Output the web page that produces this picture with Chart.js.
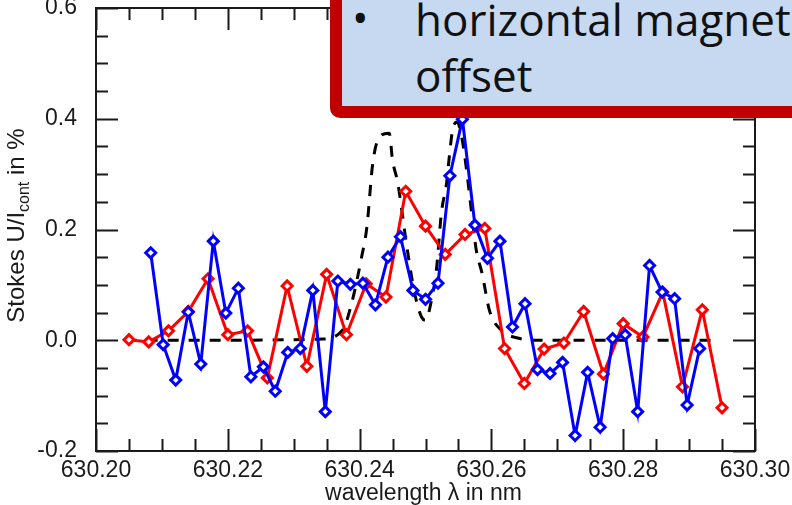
<!DOCTYPE html>
<html lang="en">
<head>
<meta charset="UTF-8">
<title>Stokes U profile</title>
<style>
    body {
        margin: 0;
        padding: 0;
        background: #ffffff;
        overflow: hidden;
    }
    .wrap {
        position: relative;
        width: 792px;
        height: 505px;
        overflow: hidden;
    }
    #stokesChart {
        position: absolute;
        left: 0;
        top: 0;
    }
    .note {
        position: absolute;
        left: 330px;
        top: -30px;
        width: 520px;
        height: 124px;
        background: #c6d9f1;
        border: 12px solid #c00000;
        border-radius: 10px;
    }
    .note-text {
        position: absolute;
        font-family: 'Open Sans', sans-serif;
        font-size: 44px;
        line-height: 44px;
        color: #111111;
        white-space: nowrap;
    }
</style>
</head>
<body>
<div class="wrap">
    <canvas id="stokesChart" width="792" height="505"></canvas>
    <div class="note"></div>
    <div class="note-text" style="left:352px; top:-5px;">•</div>
    <div class="note-text" style="left:415px; top:-3px;">horizontal magnet</div>
    <div class="note-text" style="left:415px; top:53px;">offset</div>
</div>

<script src="https://cdn.jsdelivr.net/npm/chart.js"></script>
<script>
    // tick labels
    const xTickLabels = ['630.20', '630.22', '630.24', '630.26', '630.28', '630.30'];
    const yTickLabels = ['-0.2', '0.0', '0.2', '0.4', '0.6'];

    // red series (wavelength in nm, Stokes U in %)
    const redX = [630.205, 630.208, 630.211, 630.214, 630.217, 630.220, 630.223, 630.226,
        630.229, 630.232, 630.235, 630.238, 630.241, 630.244, 630.247, 630.250,
        630.253, 630.256, 630.259, 630.262, 630.265, 630.268, 630.271, 630.274,
        630.277, 630.280, 630.283, 630.286, 630.289, 630.292, 630.295];
    const redY = [0.001, -0.003, 0.017, 0.052, 0.111, 0.010, 0.017, -0.068,
        0.098, -0.047, 0.119, 0.010, 0.102, 0.078, 0.269, 0.206,
        0.155, 0.191, 0.202, -0.015, -0.078, -0.016, -0.005, 0.052,
        -0.061, 0.030, 0.006, 0.087, -0.084, 0.055, -0.122];

    // blue series
    const blueX = [630.2083, 630.2102, 630.2121, 630.2140, 630.2159, 630.2178, 630.2197, 630.2216,
        630.2235, 630.2254, 630.2272, 630.2291, 630.2310, 630.2329, 630.2348, 630.2367,
        630.2386, 630.2405, 630.2424, 630.2443, 630.2462, 630.2481, 630.2500, 630.2519,
        630.2537, 630.2556, 630.2575, 630.2594, 630.2613, 630.2632, 630.2651, 630.2670,
        630.2689, 630.2708, 630.2727, 630.2746, 630.2765, 630.2784, 630.2803, 630.2822,
        630.2840, 630.2859, 630.2878, 630.2897, 630.2916];
    const blueY = [0.158, -0.008, -0.072, 0.051, -0.043, 0.179, 0.049, 0.094,
        -0.066, -0.048, -0.092, -0.022, -0.015, 0.090, -0.129, 0.107,
        0.101, 0.103, 0.064, 0.150, 0.187, 0.090, 0.074, 0.103,
        0.297, 0.399, 0.208, 0.148, 0.179, 0.024, 0.066, -0.053,
        -0.060, -0.040, -0.172, -0.058, -0.157, 0.003, 0.010, -0.129,
        0.135, 0.087, 0.075, -0.117, -0.015];

    // model profile (black dashed)
    const modelX = [630.2045, 630.2200, 630.2340, 630.2374, 630.2389, 630.2403, 630.2411, 630.2420,
        630.2430, 630.2445, 630.2450, 630.2458, 630.2464, 630.2471, 630.2479, 630.2486,
        630.2494, 630.2500, 630.2509, 630.2517, 630.2524, 630.2532, 630.2536, 630.2541,
        630.2548, 630.2556, 630.2562, 630.2570, 630.2577, 630.2586, 630.2597, 630.2615,
        630.2640, 630.2670, 630.2945];
    const modelY = [0, 0, 0.002, 0.018, 0.072, 0.150, 0.204, 0.320,
        0.367, 0.374, 0.325, 0.284, 0.235, 0.175, 0.114, 0.072,
        0.042, 0.036, 0.072, 0.132, 0.229, 0.284, 0.330, 0.379,
        0.394, 0.360, 0.310, 0.230, 0.163, 0.120, 0.054, 0.018,
        0.004, 0, 0];

    const toPoints = (xs, ys) => xs.map((x, i) => ({ x: x, y: ys[i] }));

    const FONT = "'Liberation Sans', Arial, sans-serif";
    const INK = '#1a1a1a';

    // inward ticks on all four sides, frame and axis titles
    const frameTicks = {
        id: 'frameTicks',
        afterDraw(chart) {
            const { ctx, chartArea: a, scales: { x, y } } = chart;
            ctx.save();
            ctx.strokeStyle = INK;
            ctx.lineWidth = 2;
            ctx.strokeRect(a.left, a.top, a.right - a.left, a.bottom - a.top);
            ctx.beginPath();
            for (let k = 0; k <= 20; k++) {
                const v = 630.20 + k * 0.005;
                const px = Math.round(x.getPixelForValue(v)) + 0.5;
                const len = k % 4 === 0 ? 22 : 12;
                ctx.moveTo(px, a.bottom); ctx.lineTo(px, a.bottom - len);
                ctx.moveTo(px, a.top); ctx.lineTo(px, a.top + len);
            }
            for (let k = 0; k <= 16; k++) {
                const v = -0.2 + k * 0.05;
                const py = Math.round(y.getPixelForValue(v)) + 0.5;
                const len = k % 4 === 0 ? 22 : 12;
                ctx.moveTo(a.left, py); ctx.lineTo(a.left + len, py);
                ctx.moveTo(a.right, py); ctx.lineTo(a.right - len, py);
            }
            ctx.stroke();

            ctx.fillStyle = INK;
            ctx.textBaseline = 'alphabetic';

            // x title
            ctx.font = '23px ' + FONT;
            ctx.textAlign = 'center';
            ctx.fillText('wavelength λ in nm', (a.left + a.right) / 2 - 2, 500);

            // y title with subscript
            ctx.textAlign = 'left';
            const cy = (a.top + a.bottom) / 2 - 4;
            ctx.translate(24, cy);
            ctx.rotate(-Math.PI / 2);
            const big = '24px ' + FONT, small = '16px ' + FONT;
            ctx.font = big;
            const w1 = ctx.measureText('Stokes U/I').width;
            const w3 = ctx.measureText(' in %').width;
            ctx.font = small;
            const w2 = ctx.measureText('cont').width;
            const sx = -(w1 + w2 + w3) / 2;
            ctx.font = big;
            ctx.fillText('Stokes U/I', sx, 0);
            ctx.font = small;
            ctx.fillText('cont', sx + w1, 5);
            ctx.font = big;
            ctx.fillText(' in %', sx + w1 + w2, 0);
            ctx.restore();
        }
    };

    new Chart(document.getElementById('stokesChart'), {
        type: 'line',
        data: {
            datasets: [
                {
                    label: 'blue',
                    data: toPoints(blueX, blueY),
                    borderColor: '#0000ff',
                    backgroundColor: '#ffffff',
                    borderWidth: 3,
                    pointStyle: 'rectRot',
                    pointRadius: 5,
                    pointBorderWidth: 3,
                    pointBorderColor: '#0000ff',
                    pointBackgroundColor: '#ffffff',
                    tension: 0
                },
                {
                    label: 'red',
                    data: toPoints(redX, redY),
                    borderColor: '#ff0000',
                    backgroundColor: '#ffffff',
                    borderWidth: 3,
                    pointStyle: 'rectRot',
                    pointRadius: 5,
                    pointBorderWidth: 3,
                    pointBorderColor: '#ff0000',
                    pointBackgroundColor: '#ffffff',
                    tension: 0
                },
                {
                    label: 'model',
                    data: toPoints(modelX, modelY),
                    borderColor: '#000000',
                    borderWidth: 3,
                    borderDash: [11, 10],
                    pointRadius: 0,
                    cubicInterpolationMode: 'monotone'
                }
            ]
        },
        options: {
            responsive: false,
            animation: false,
            devicePixelRatio: 1,
            layout: { padding: { top: 8, right: 37, left: 0, bottom: 0 } },
            plugins: {
                legend: { display: false },
                tooltip: { enabled: false }
            },
            scales: {
                x: {
                    type: 'linear',
                    min: 630.2,
                    max: 630.3,
                    grid: { display: false },
                    border: { display: false },
                    afterBuildTicks: (scale) => {
                        scale.ticks = xTickLabels.map(s => ({ value: parseFloat(s) }));
                    },
                    afterFit: (scale) => {
                        scale.height = 54;
                        scale.paddingLeft = 0;
                        scale.paddingRight = 0;
                    },
                    ticks: {
                        autoSkip: false,
                        maxRotation: 0,
                        padding: -2,
                        color: INK,
                        font: { family: FONT, size: 23 },
                        callback: (v, i) => xTickLabels[i]
                    }
                },
                y: {
                    type: 'linear',
                    min: -0.2,
                    max: 0.6,
                    grid: { display: false },
                    border: { display: false },
                    afterBuildTicks: (scale) => {
                        scale.ticks = yTickLabels.map(s => ({ value: parseFloat(s) }));
                    },
                    afterFit: (scale) => {
                        scale.width = 96;
                        scale.paddingTop = 0;
                        scale.paddingBottom = 0;
                    },
                    ticks: {
                        padding: 11,
                        color: INK,
                        font: { family: FONT, size: 23, lineHeight: 0.6 },
                        callback: (v, i) => yTickLabels[i]
                    }
                }
            }
        },
        plugins: [frameTicks]
    });
</script>
</body>
</html>
